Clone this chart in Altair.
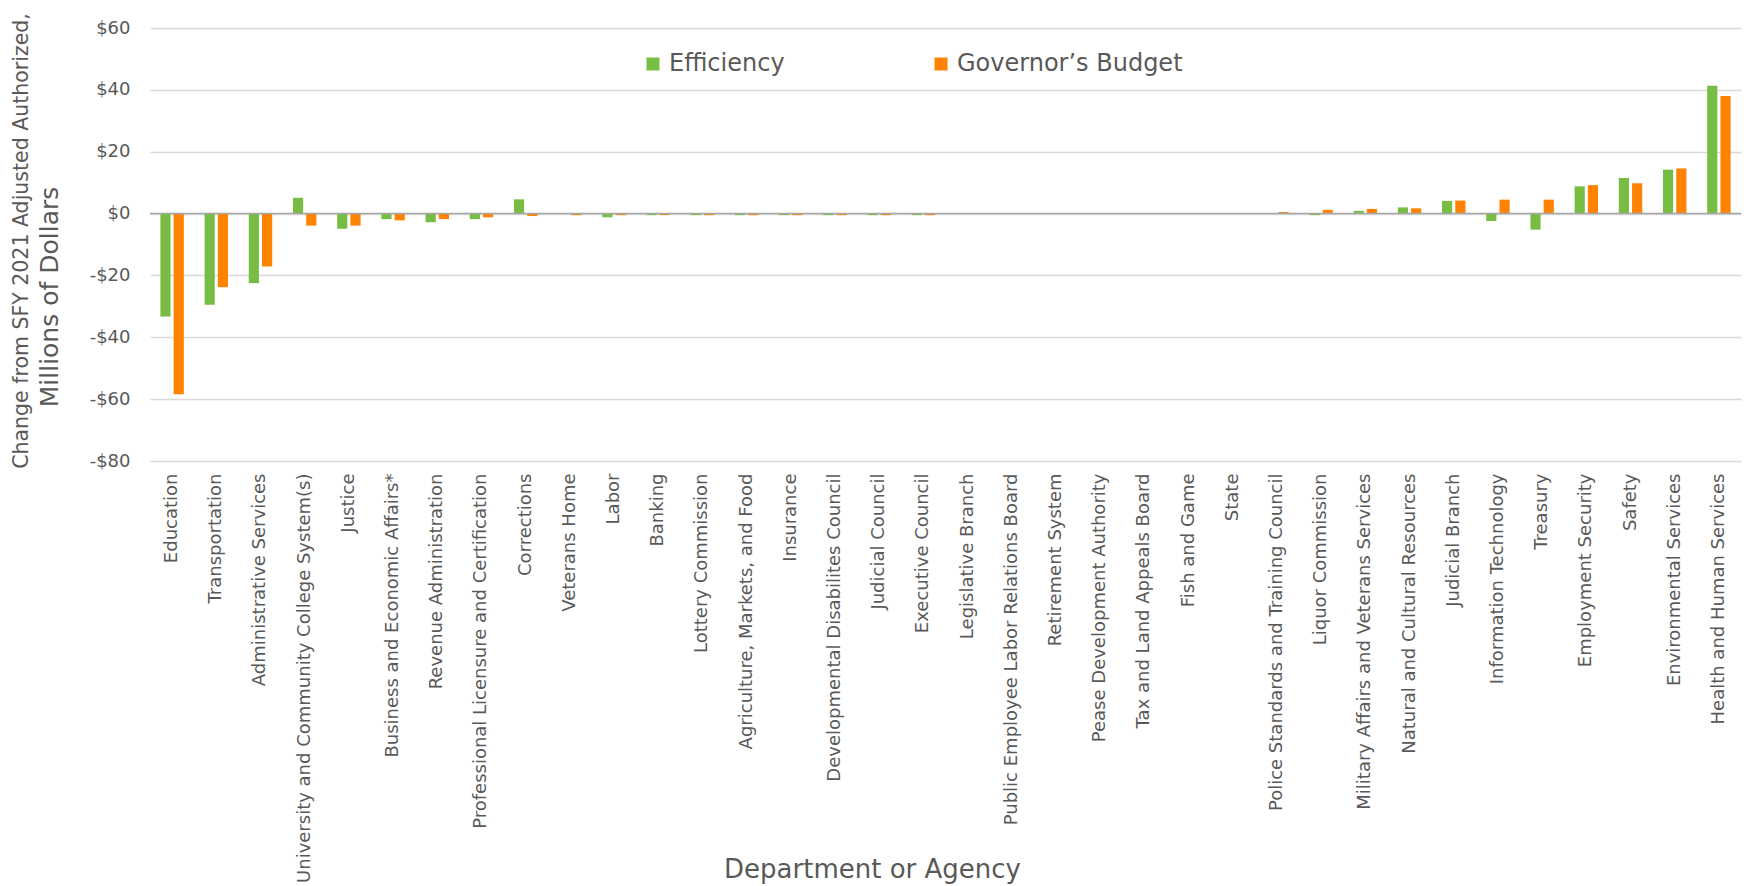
import altair as alt
import pandas as pd

departments = [
    "Education", "Transportation", "Administrative Services",
    "University and Community College System(s)", "Justice",
    "Business and Economic Affairs*", "Revenue Administration",
    "Professional Licensure and Certification", "Corrections", "Veterans Home",
    "Labor", "Banking", "Lottery Commission", "Agriculture, Markets, and Food",
    "Insurance", "Developmental Disabilites Council", "Judicial Council",
    "Executive Council", "Legislative Branch",
    "Public Employee Labor Relations Board", "Retirement System",
    "Pease Development Authority", "Tax and Land Appeals Board", "Fish and Game",
    "State", "Police Standards and Training Council", "Liquor Commission",
    "Military Affairs and Veterans Services", "Natural and Cultural Resources",
    "Judicial Branch", "Information Technology", "Treasury",
    "Employment Security", "Safety", "Environmental Services",
    "Health and Human Services",
]

efficiency = [
    -33.3, -29.5, -22.5, 5.1, -4.9, -1.8, -2.8, -1.8, 4.6, 0.0,
    -1.2, -0.5, -0.5, -0.5, -0.5, -0.5, -0.5, -0.5, 0.0, 0.0,
    0.0, 0.0, 0.0, 0.0, 0.0, 0.0, -0.5, 0.9, 2.0, 4.1,
    -2.4, -5.2, 8.8, 11.5, 14.2, 41.3,
]

governors_budget = [
    -58.4, -23.8, -17.1, -3.9, -3.9, -2.2, -1.8, -1.2, -0.8, -0.5,
    -0.5, -0.5, -0.5, -0.5, -0.5, -0.5, -0.5, -0.5, 0.0, 0.0,
    0.0, 0.0, 0.0, 0.0, 0.0, 0.5, 1.2, 1.5, 1.7, 4.2,
    4.5, 4.5, 9.2, 9.8, 14.6, 38.0,
]

series_names = ["Efficiency", "Governor\u2019s Budget"]
series_colors = ["#77BC43", "#FF8200"]
y_ticks = [-80, -60, -40, -20, 0, 20, 40, 60]
y_title_lines = ["Change from SFY 2021 Adjusted Authorized,", "Millions of Dollars"]
x_title = "Department or Agency"

rows = []
for d, e, g in zip(departments, efficiency, governors_budget):
    rows.append({"Department": d, "Series": series_names[0], "Value": e})
    rows.append({"Department": d, "Series": series_names[1], "Value": g})
df = pd.DataFrame(rows)

FONT = "DejaVu Sans"
TEXT = "#595959"

bars = alt.Chart(df).mark_bar().encode(
    x=alt.X(
        "Department:N",
        sort=departments,
        scale=alt.Scale(paddingInner=0.47, paddingOuter=0.235),
        axis=alt.Axis(
            title=x_title,
            labelAngle=270,
            labelAlign="right",
            labelBaseline="middle",
            labelPadding=12,
            labelFontSize=18,
            labelColor=TEXT,
            labelFont=FONT,
            labelLimit=0,
            ticks=False,
            domain=False,
            grid=False,
            titleFont=FONT,
            titleFontSize=26,
            titleColor=TEXT,
            titleFontWeight="normal",
            titleX=722,
            titleY=416,
            titleAlign="center",
            titleBaseline="alphabetic",
            titleAngle=0,
        ),
    ),
    xOffset=alt.XOffset(
        "Series:N",
        sort=series_names,
        scale=alt.Scale(paddingInner=0.233, paddingOuter=0),
    ),
    y=alt.Y(
        "Value:Q",
        scale=alt.Scale(domain=[-80, 60], nice=False),
        axis=alt.Axis(
            values=y_ticks,
            title=None,
            labelExpr="datum.value < 0 ? '-$' + abs(datum.value) : '$' + datum.value",
            labelFont=FONT,
            labelFontSize=18,
            labelColor=TEXT,
            labelPadding=20,
            ticks=False,
            domain=False,
            grid=True,
            gridColor="#D9D9D9",
            gridWidth=1.5,
        ),
    ),
    color=alt.Color(
        "Series:N",
        sort=series_names,
        scale=alt.Scale(domain=series_names, range=series_colors),
        legend=alt.Legend(
            title=None,
            orient="none",
            legendX=491,
            legendY=24,
            direction="horizontal",
            labelFont=FONT,
            labelFontSize=24,
            labelColor=TEXT,
            labelOffset=4,
            labelLimit=0,
            symbolType="square",
            symbolSize=169,
            symbolStrokeWidth=0,
            symbolOpacity=1,
            columnPadding=144,
        ),
    ),
)

zero_line = alt.Chart(pd.DataFrame({"v": [0]})).mark_rule(
    color="#A6A6A6", strokeWidth=1.5
).encode(y=alt.datum(0))

title1 = alt.Chart(pd.DataFrame({"t": [y_title_lines[0]]})).mark_text(
    angle=270, font=FONT, fontSize=20.5, color=TEXT, align="center", baseline="middle"
).encode(x=alt.value(-128), y=alt.value(213), text="t:N")

title2 = alt.Chart(pd.DataFrame({"t": [y_title_lines[1]]})).mark_text(
    angle=270, font=FONT, fontSize=25, color=TEXT, align="center", baseline="middle"
).encode(x=alt.value(-100), y=alt.value(269), text="t:N")

chart = (
    alt.layer(bars, zero_line, title1, title2)
    .properties(
        width=1591,
        height=433,
        autosize=alt.AutoSizeParams(type="none"),
        padding={"left": 142, "top": 20, "right": 3, "bottom": 425},
        background="white",
    )
    .configure_view(stroke=None)
)

chart.save("out.html", embed_options={"renderer": "svg", "actions": False})
